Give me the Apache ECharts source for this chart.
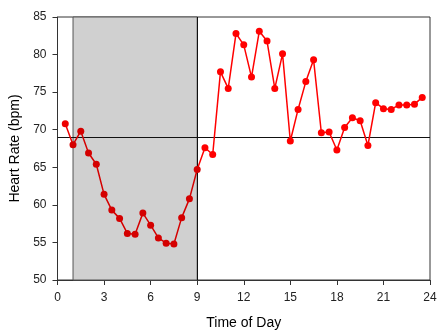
<!DOCTYPE html>
<html>
<head>
<meta charset="utf-8">
<script src="https://cdn.jsdelivr.net/npm/echarts@6/dist/echarts.min.js"></script>
<style>html,body{margin:0;padding:0;background:#fff;}#c{width:446px;height:335px;}</style>
</head>
<body>
<div id="c"></div>
<script>
const hours = [0.5,1.0,1.5,2.0,2.5,3.0,3.5,4.0,4.5,5.0,5.5,6.0,6.5,7.0,7.5,8.0,8.5,9.0,9.5,10.0,10.5,11.0,11.5,12.0,12.5,13.0,13.5,14.0,14.5,15.0,15.5,16.0,16.5,17.0,17.5,18.0,18.5,19.0,19.5,20.0,20.5,21.0,21.5,22.0,22.5,23.0,23.5];
const heartRate = [70.8,68.0,69.8,66.9,65.4,61.4,59.3,58.2,56.2,56.1,58.9,57.3,55.6,54.9,54.8,58.3,60.8,64.7,67.6,66.7,77.7,75.5,82.8,81.3,77.0,83.1,81.8,75.5,80.1,68.5,72.7,76.4,79.3,69.6,69.7,67.3,70.3,71.6,71.2,67.9,73.6,72.8,72.7,73.3,73.3,73.4,74.3];
const sleepStart = 1;
const sleepEnd = 9;
const referenceRate = 69;
const xTicks = [0,3,6,9,12,15,18,21,24];

const chart = echarts.init(document.getElementById('c'), null, {renderer:'canvas'});
const font = 'Liberation Sans, Arial, sans-serif';
chart.setOption({
  animation:false,
  grid:{left:57.5, right:16, top:17, bottom:55, show:true, borderColor:'#333', borderWidth:1, backgroundColor:'transparent'},
  xAxis:{type:'value', min:0, max:24, interval:3,
    name:'Time of Day', nameLocation:'middle', nameGap:36,
    nameTextStyle:{fontFamily:font, fontSize:14, color:'#000'},
    axisLine:{lineStyle:{color:'#333'}},
    axisTick:{show:true, length:5, lineStyle:{color:'#333'}},
    axisLabel:{fontFamily:font, fontSize:12, color:'#222', margin:12,
      formatter:v=>xTicks.includes(v)?String(v):''},
    splitLine:{show:false}},
  yAxis:{type:'value', min:50, max:85, interval:5,
    name:'Heart Rate (bpm)', nameLocation:'middle', nameGap:31,
    nameTextStyle:{fontFamily:font, fontSize:14, color:'#000'},
    axisLine:{show:true, lineStyle:{color:'#333'}},
    axisTick:{show:true, length:5, lineStyle:{color:'#333'}},
    axisLabel:{fontFamily:font, fontSize:12, color:'#222', margin:11},
    splitLine:{show:false}},
  visualMap:{show:false, type:'piecewise', dimension:0, seriesIndex:0,
    pieces:[{lt:sleepStart-0.01, color:'#ee0000'},{gte:sleepStart-0.01, lte:sleepEnd+0.01, color:'#d40000'},{gt:sleepEnd+0.01, color:'#ff0000'}]},
  series:[{
    type:'line',
    data:hours.map((h,i)=>[h,heartRate[i]]),
    symbol:'circle', symbolSize:7,
    lineStyle:{width:1.5},
    z:5,
    markArea:{silent:true,
      itemStyle:{color:'#d0d0d0', borderColor:'#555', borderWidth:1},
      data:[[{xAxis:sleepStart},{xAxis:sleepEnd}]]},
    markLine:{silent:true, symbol:'none', label:{show:false},
      lineStyle:{color:'#111', width:1, type:'solid'},
      data:[{yAxis:referenceRate},{xAxis:sleepEnd}]}
  }]
});
</script>
</body>
</html>
